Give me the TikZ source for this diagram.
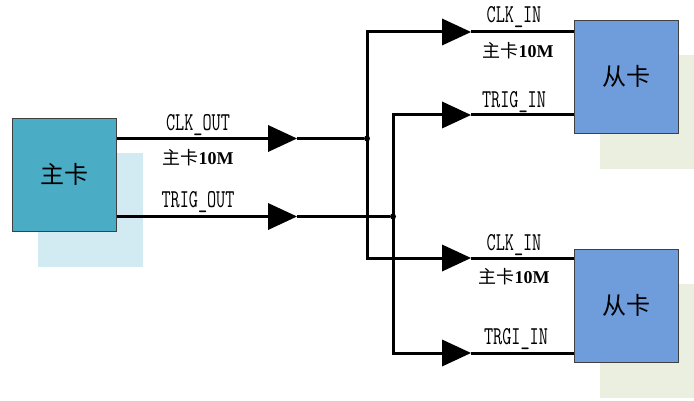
\documentclass[tikz,border=0pt]{standalone}
\usepackage{fontspec}
\setmainfont{Liberation Serif}
\newfontfamily\cjkfont{Noto Sans CJK SC}
\usetikzlibrary{shapes.geometric}
\definecolor{maincard}{HTML}{4BACC6}
\definecolor{mainshadow}{HTML}{D2EAF1}
\definecolor{subcard}{HTML}{6F9CDB}
\definecolor{subshadow}{HTML}{EBEFDF}
\newcommand{\sigtext}[1]{\scalebox{0.77}[1.12]{\ttfamily\fontsize{23}{23}\selectfont #1}}
\newcommand{\ratetext}{{\cjkfont\fontsize{18}{18}\selectfont 主卡}{\fontsize{18}{18}\selectfont\bfseries 10M}}
\tikzset{
    card/.style={draw=black!75, line width=0.9pt, minimum width=104, minimum height=113, inner sep=0pt, font=\cjkfont\fontsize{24}{24}\selectfont},
    wire/.style={line width=3pt},
    buffer/.style={isosceles triangle, isosceles triangle stretches, fill=black, minimum width=27, minimum height=29, inner sep=0pt, outer sep=0pt, anchor=west},
    joint/.style={circle, fill=black, minimum size=6, inner sep=0pt},
    lbl/.style={inner sep=0pt}
}
\begin{document}
\begin{tikzpicture}[x=1pt, y=-1pt]
        \useasboundingbox (0,0) rectangle (694,401);

        \fill[mainshadow] (38,153) rectangle (143,267);
        \fill[subshadow] (600,55) rectangle (694,169);
        \fill[subshadow] (600,284) rectangle (694,398);

        \node[buffer] (clkout) at (268,138.5) {};
        \node[buffer] (trigout) at (268,216.5) {};
        \node[buffer] (clkinA) at (442,32) {};
        \node[buffer] (triginA) at (442,115) {};
        \node[buffer] (clkinB) at (442,258) {};
        \node[buffer] (triginB) at (442,353) {};

        \node[joint] (jclk) at (367,138.5) {};
        \node[joint] (jtrig) at (393,216.5) {};

        \node[card, fill=maincard] (master) at (64.5,174.5) {主卡};
        \node[card, fill=subcard] (slaveA) at (626.5,76.5) {从卡};
        \node[card, fill=subcard] (slaveB) at (626.5,305.5) {从卡};

        \draw[wire] (clkout.west -| master.east) -- (clkout.west);
        \draw[wire] (trigout.west -| master.east) -- (trigout.west);
        \draw[wire] (clkout.apex) -- (jclk);
        \draw[wire] (trigout.apex) -- (jtrig);

        \draw[wire] (clkinA.west) -- (clkinA.west -| jclk) -- (clkinB.west -| jclk) -- (clkinB.west);
        \draw[wire] (triginA.west) -- (triginA.west -| jtrig) -- (triginB.west -| jtrig) -- (triginB.west);

        \draw[wire] (clkinA.apex) -- (clkinA.apex -| slaveA.west);
        \draw[wire] (triginA.apex) -- (triginA.apex -| slaveA.west);
        \draw[wire] (clkinB.apex) -- (clkinB.apex -| slaveB.west);
        \draw[wire] (triginB.apex) -- (triginB.apex -| slaveB.west);

        \node[lbl] (clkoutlbl) at (198,125) {\sigtext{CLK\_OUT}};
        \node[lbl] (rateout) at (198,158) {\ratetext};
        \node[lbl] (trigoutlbl) at (198,202) {\sigtext{TRIG\_OUT}};
        \node[lbl] (clkinAlbl) at (514,17) {\sigtext{CLK\_IN}};
        \node[lbl] (rateA) at (518,51) {\ratetext};
        \node[lbl] (triginAlbl) at (514,102) {\sigtext{TRIG\_IN}};
        \node[lbl] (clkinBlbl) at (514,245) {\sigtext{CLK\_IN}};
        \node[lbl] (rateB) at (514,277) {\ratetext};
        \node[lbl] (triginBlbl) at (516,339) {\sigtext{TRGI\_IN}};
    \end{tikzpicture}
\end{document}
